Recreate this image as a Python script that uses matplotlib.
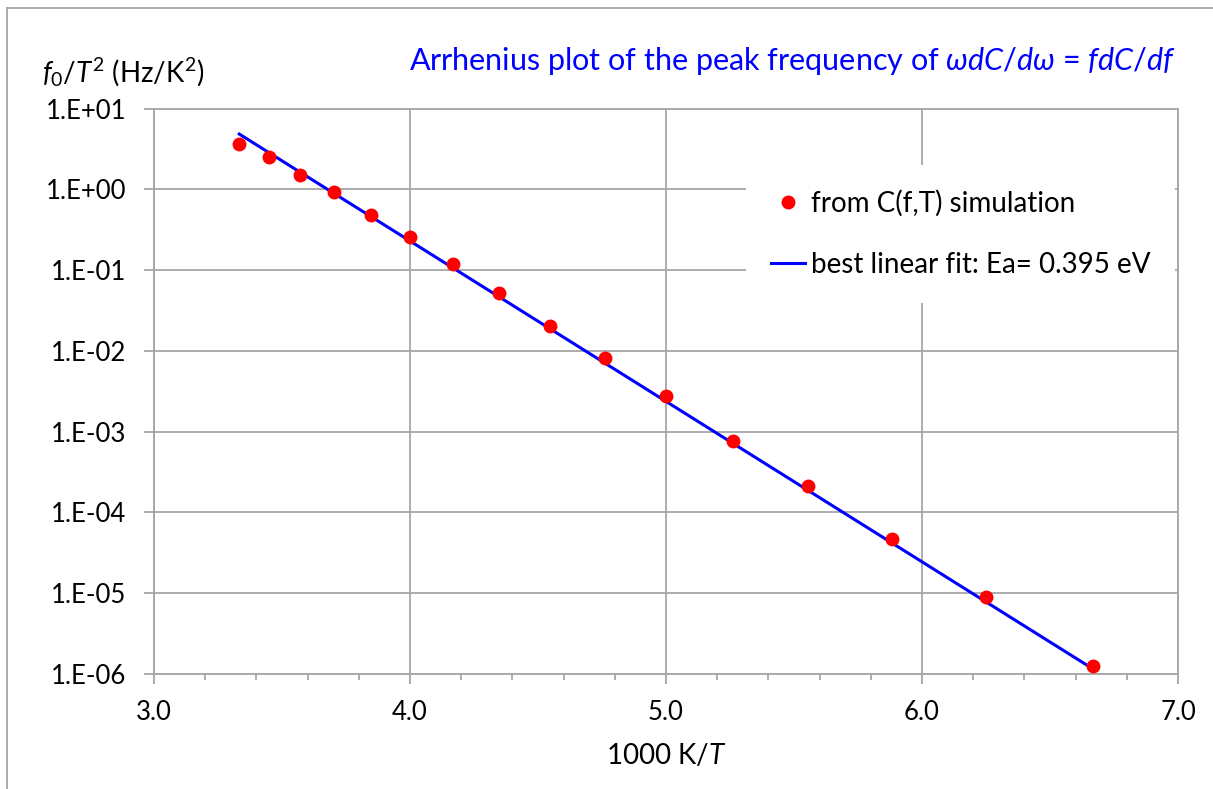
import numpy as np
import matplotlib
matplotlib.use('Agg')
import matplotlib.pyplot as plt
import matplotlib.ticker as tick

plt.rcParams['font.family'] = ['Lato', 'DejaVu Sans']
plt.rcParams['mathtext.fontset'] = 'custom'
plt.rcParams['mathtext.rm'] = 'Lato'
plt.rcParams['mathtext.it'] = 'Lato:italic'

# simulated peak frequencies, x = 1000/T
inv_T = [3.333, 3.448, 3.571, 3.704, 3.846, 4.000, 4.167, 4.348,
         4.545, 4.762, 5.000, 5.263, 5.556, 5.882, 6.250, 6.667]
f0_T2 = [3.64, 2.51, 1.50, 0.935, 0.485, 0.255, 0.119, 0.0525,
         0.0205, 0.00809, 0.00279, 7.6e-4, 2.13e-4, 4.66e-5, 9.0e-6, 1.24e-6]

# best linear fit (Ea = 0.395 eV), end points
fit_x = [3.333, 6.667]
fit_y = [4.83, 1.16e-6]

grid_c = '#a6a6a6'
fig = plt.figure(figsize=(12.13, 7.89), dpi=100)
ax = fig.add_axes([154/1213, 1-674/789, 1024/1213, 565.5/789])

ax.plot(fit_x, fit_y, color='#0000ff', lw=2.2, zorder=2,
        label='best linear fit: Ea= 0.395 eV')
ax.plot(inv_T, f0_T2, 'o', color='#ff0000', ms=10, mec='none', zorder=3,
        label='from C(f,T) simulation')

ax.set_yscale('log')
ax.set_xlim(3.0, 7.0)
ax.set_ylim(1e-6, 1e1)
ax.xaxis.set_major_locator(tick.MultipleLocator(1.0))
ax.xaxis.set_minor_locator(tick.MultipleLocator(0.2))
ax.xaxis.set_major_formatter(tick.FormatStrFormatter('%.1f'))
ax.yaxis.set_major_locator(tick.LogLocator(base=10, numticks=20))
ax.yaxis.set_minor_locator(tick.NullLocator())
ax.yaxis.set_major_formatter(tick.FuncFormatter(
    lambda v, p: '1.E%+03d' % int(round(np.log10(v)))))

ax.grid(True, which='major', color=grid_c, lw=1.3)
for s in ax.spines.values():
    s.set_color(grid_c)
    s.set_linewidth(1.3)
ax.tick_params(which='major', length=7, width=1.3, color=grid_c,
               labelsize=18.5, pad=12)
ax.tick_params(which='minor', length=4.5, width=1.3, color=grid_c)
ax.tick_params(axis='y', pad=13)

ax.set_xlabel('1000 K/$\\mathit{T}$', fontsize=20, labelpad=12)

fig.text(42/1213, 1-72/789, r'$\mathit{f}_{\mathrm{0}}/\mathit{T}^{\mathrm{2}}$ (Hz/K$^{\mathrm{2}}$)',
         fontsize=20, va='center', ha='left')
fig.text(1176/1213, 1-61/789,
         r'Arrhenius plot of the peak frequency of $\omega \mathit{dC}/\mathit{d}\omega$ = $\mathit{fdC}/\mathit{df}$',
         fontsize=22, color='#0000ff', va='center', ha='right')

h, l = ax.get_legend_handles_labels()
leg = ax.legend(h[::-1], l[::-1], loc='upper left', bbox_to_anchor=(0.565, 0.925),
                frameon=True, fancybox=False, fontsize=20, labelspacing=1.27,
                handlelength=1.22, handletextpad=0.2, borderpad=0.9)
leg.get_frame().set_facecolor('white')
leg.get_frame().set_edgecolor('none')
leg.get_frame().set_alpha(1.0)

# chart border (top and left visible)
fig.add_artist(plt.Line2D([7/1213, 7/1213], [0, 1-8/789], color='#a6a6a6', lw=1.3))
fig.add_artist(plt.Line2D([7/1213, 1], [1-8/789, 1-8/789], color='#a6a6a6', lw=1.3))

fig.savefig('out.png', dpi=100)
